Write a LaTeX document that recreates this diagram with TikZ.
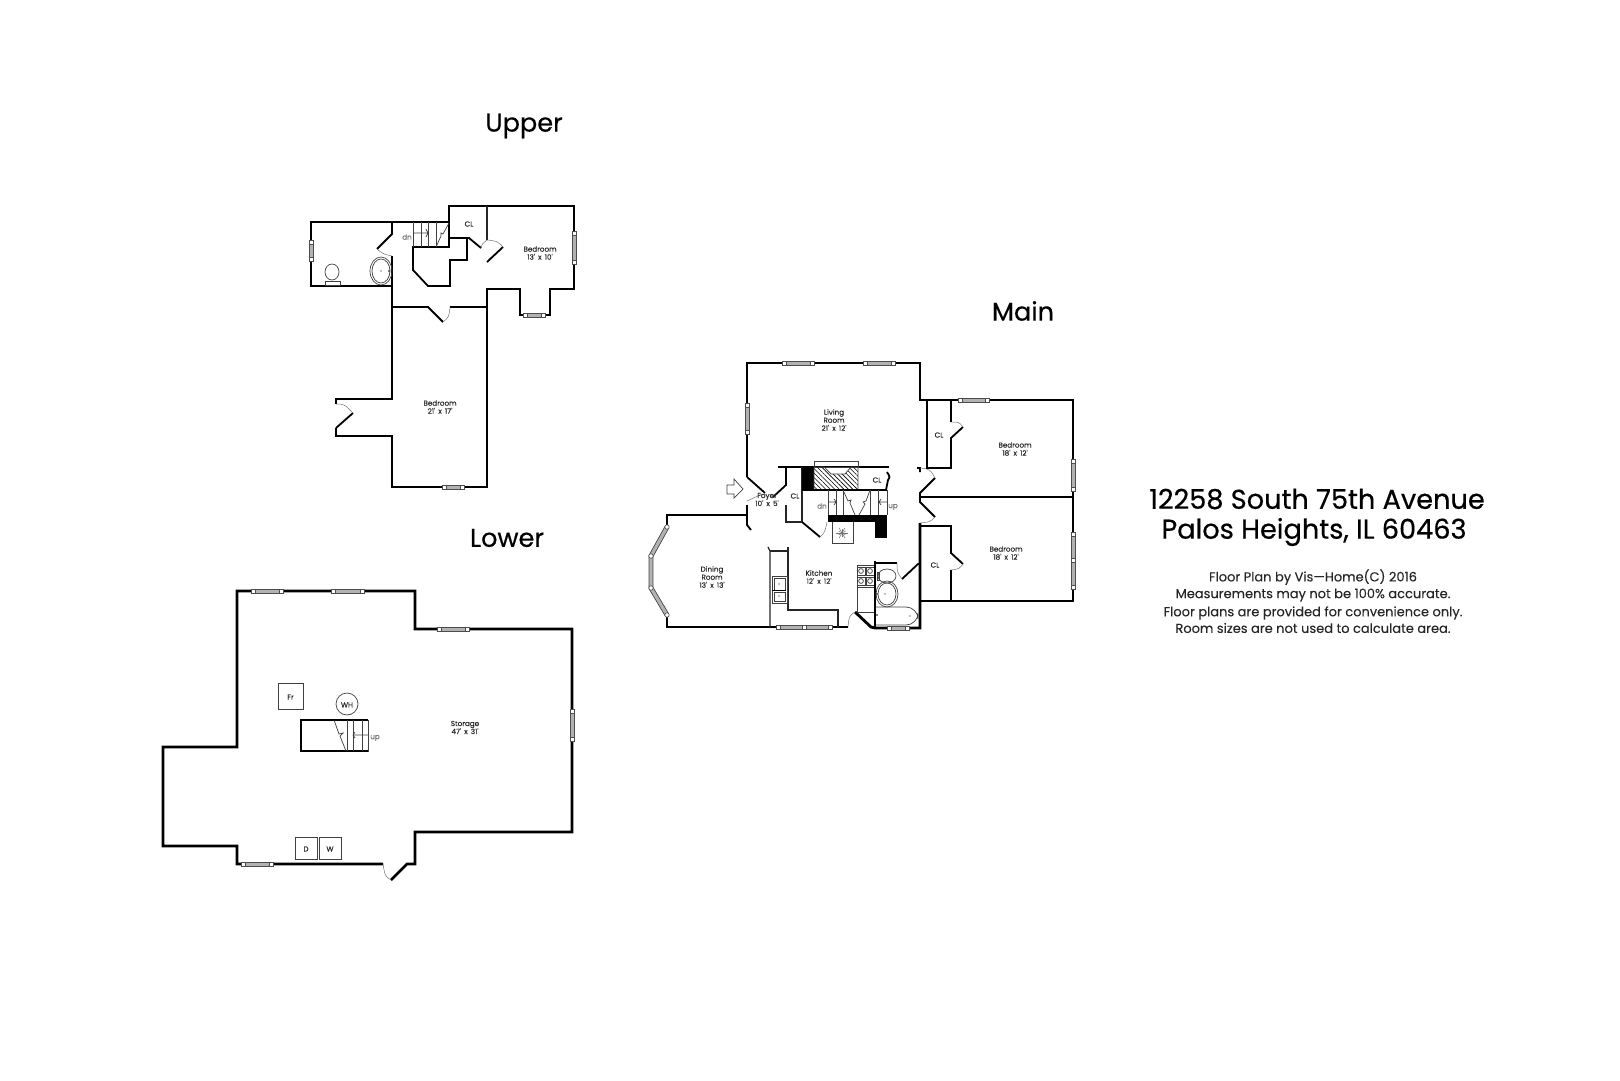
\documentclass[tikz,border=0pt]{standalone}
\usepackage{fontspec}
\setmainfont{Poppins}
\newfontfamily\headfont[FakeBold=0.5]{Poppins}
\newfontfamily\notefont[FakeBold=0.15]{Poppins}
\usetikzlibrary{patterns.meta}
\newcommand{\roomfont}{\fontsize{3.6}{4}\notefont}
\newcommand{\dims}[2]{#1'\, x \,#2'}
\tikzset{
  wall/.style={line width=1.4pt,line join=miter,black},
  midwall/.style={line width=.9pt,black},
  partition/.style={line width=.6pt,black!85},
  fixture/.style={line width=.35pt,black!75},
  swing/.style={line width=.25pt,black!55},
  winbar/.style={line width=.3pt,draw=black!70,fill=black!30},
  wincap/.style={line width=.3pt,draw=black!70,fill=white},
  room/.style={font=\roomfont,align=center,inner sep=0pt,text=black!85,yshift=.5pt},
  stairnote/.style={font=\roomfont,inner sep=0pt,text=black!55},
  planname/.style={font=\fontsize{12.8}{13}\headfont,inner sep=0pt,yshift=.5pt},
  address/.style={font=\fontsize{13.6}{15}\headfont,inner sep=0pt},
  smallnote/.style={font=\fontsize{6.5}{7}\notefont,inner sep=0pt,text=black!85,yshift=.5pt}
}
\newcommand{\hwin}[3]{% x from, x to, y
  \filldraw[winbar] (#1,#3-2) rectangle (#2,#3+2);
  \filldraw[wincap] (#1-2,#3-2) rectangle (#1+2,#3+2);
  \filldraw[wincap] (#2-2,#3-2) rectangle (#2+2,#3+2);
}
\newcommand{\vwin}[3]{% x, y from, y to
  \filldraw[winbar] (#1-2,#2) rectangle (#1+2,#3);
  \filldraw[wincap] (#1-2,#2-2) rectangle (#1+2,#2+2);
  \filldraw[wincap] (#1-2,#3-2) rectangle (#1+2,#3+2);
}
\begin{document}
\begin{tikzpicture}[x=0.5pt,y=-0.5pt]
\useasboundingbox (0,0) rectangle (1620,1080);
% titles
\node[planname] (upperName) at (524,127) {Upper};
\node[planname] (mainName) at (1023,312) {Main};
\node[planname] (lowerName) at (507,539) {Lower};
\node[address] (addrA) at (1317,499) {12258 South 75th Avenue};
\node[address] (addrB) at (1314,532) {Palos Heights, IL 60463};
\node[smallnote] (noteA) at (1313,578) {Floor Plan by Vis—Home(C) 2016};
\node[smallnote] (noteB) at (1313,596) {Measurements may not be 100\% accurate.};
\node[smallnote] (noteC) at (1313,614) {Floor plans are provided for convenience only.};
\node[smallnote] (noteD) at (1313,629) {Room sizes are not used to calculate area.};

% upper floor
\draw[wall] (392,222) -- (311,222) -- (311,286) -- (392,286) -- (392,399) -- (336,399) -- (336,404);
\draw[wall] (336,428) -- (336,436) -- (392,436) -- (392,487) -- (487,487) -- (487,289)
  -- (520,289) -- (520,315) -- (550,315) -- (550,289) -- (574,289) -- (574,206) -- (449,206) -- (449,238);
\draw[wall] (392,222) -- (449,222);
\draw[midwall] (353,413) -- (336,428);
\draw[midwall] (449,222) -- (449,247) -- (413,247) -- (413,270) -- (428,286) -- (450,286) -- (450,260) -- (467,260) -- (467,238) -- (449,238);
\draw[midwall] (392,222) -- (392,234) -- (377,249);
\draw[midwall] (392,256) -- (392,286);
\draw[partition] (487,206) -- (487,240);
\draw[midwall] (467,238) -- (469,238) -- (481,248);
\draw[midwall] (487,262) -- (503,247);
\draw[midwall] (392,307) -- (428,307) -- (443,322);
\draw[midwall] (450,307) -- (487,307);
\draw[swing] (377,249) .. controls (383,254) .. (392,256);
\draw[swing] (487,240) .. controls (497,241) .. (503,247);
\draw[swing] (481,248) .. controls (482,244) .. (487,240);
\draw[swing] (443,322) .. controls (449,317) .. (450,307);
\draw[swing] (336,404) .. controls (344,404) .. (353,413);
% upper stairs
\draw[fixture] (413,222) -- (413,247) (421,222) -- (421,247) (428,222) -- (428,247) (436,222) -- (436,247);
\draw[fixture] (413,233) -- (428,233) (426,229) -- (428,233) -- (426,237);
\draw[fixture] (449,223) -- (443,234) -- (441,233) -- (441,236) -- (436,247);
% upper bath
\draw[fixture] (332,272) ellipse[x radius=7,y radius=8];
\draw[fixture] (325,281) rectangle (340,285);
\draw[fixture] (381,271) ellipse[x radius=11,y radius=14];
\draw[fixture] (381,271) ellipse[x radius=9,y radius=12];
\fill (381,271) circle[radius=.6];
\fill (389,271) circle[radius=.9];
\hwin{444}{462}{487}
\hwin{525}{543}{315}
\vwin{311}{242}{259}
\vwin{574}{233}{262}
\node[room] (bedroomUp) at (540,254) {Bedroom\\\dims{13}{10}};
\node[room] (bedroomBig) at (440,408) {Bedroom\\\dims{21}{17}};
\node[room] (closetUp) at (469,225) {CL};
\node[stairnote] (dnUp) at (407,237) {dn};

% main floor
\draw[wall] (747,477) -- (747,363) -- (920,363) -- (920,400) -- (1073,400) -- (1073,601) -- (920,601);
\draw[wall] (920,523) -- (920,628) -- (875,628) -- (871,627) -- (855,612);
\draw[wall] (848,627) -- (667,627) -- (667,615) (667,527) -- (667,515) -- (747,515);
\draw[midwall] (747,477) -- (765,493);
\draw[midwall] (747,505) -- (747,525) -- (751,530);
\draw[midwall] (778,467) -- (889,467);
\draw[midwall] (786,467) -- (786,485) -- (773,497);
\draw[partition] (786,505) -- (786,522) -- (802,522) -- (802,467);
\draw[midwall] (802,522) -- (820,537);
\draw[swing] (747,501) .. controls (755,497) .. (762,494);
\draw[swing] (820,537) .. controls (825,532) .. (827,522);
% fireplace and chimney
\fill[black] (802,467) rectangle (814,490);
\draw[fixture] (814,461) rectangle (858,467);
\draw[fixture,pattern={Lines[angle=-45,distance=1.6pt,line width=.3pt]}] (814,467) -- (824,467) -- (831,474) -- (845,474)
  -- (851,467) -- (858,467) -- (858,490) -- (814,490) -- cycle;
\draw[midwall] (802,490) -- (887,490);
\draw[midwall] (887,472) .. controls (890,477) .. (888,480) -- (886,490);
% main stairs
\fill[black] (828,515) rectangle (887,522);
\fill[black] (875,522) rectangle (887,538);
\draw[fixture] (887,490) -- (887,515) (828,490) -- (828,515) (836,490) -- (836,515) (843,490) -- (843,515)
  (870,490) -- (870,515) (878,490) -- (878,515);
\draw[fixture] (843,490) -- (848,501) -- (851,500) -- (850,503) -- (855,515);
\draw[fixture] (870,490) -- (866,501) -- (863,502) -- (865,504) -- (859,515);
\draw[fixture] (828,502) -- (836,502) (834,499) -- (836,502) -- (834,505);
\draw[fixture] (887,502) -- (879,502) (881,499) -- (879,502) -- (881,505);
% snowflake box
\draw[fixture] (832,522) -- (832,543) -- (853,543) -- (853,522);
\foreach \a in {0,60,...,300} {
  \draw[swing] (842,533) -- ++(\a:6);
}
\foreach \a in {30,90,...,330} {
  \draw[swing] (842,533) -- ++(\a:4);
}
% right side doors and closets
\draw[midwall] (917,468) -- (920,468) -- (920,472) (935,478) -- (920,493) -- (920,502) -- (935,517);
\draw[swing] (920,468) .. controls (930,469) .. (935,478);
\draw[swing] (935,517) .. controls (930,522) .. (920,523);
\draw[midwall] (927,400) -- (927,468) -- (951,468) -- (951,438) -- (963,427);
\draw[midwall] (951,400) -- (951,422);
\draw[swing] (951,422) .. controls (959,422) .. (963,427);
\draw[midwall] (920,497) -- (1073,497);
\draw[midwall] (920,526) -- (951,526) -- (951,553) -- (963,564);
\draw[midwall] (951,570) -- (951,601);
\draw[swing] (963,564) .. controls (959,569) .. (951,570);
% kitchen
\draw[partition] (768,547) -- (770,551) -- (770,627);
\draw[partition] (770,551) -- (788,551) -- (788,547);
\draw[partition] (788,551) -- (788,610) -- (838,610) -- (838,627);
\draw[fixture] (772,576) rectangle (787,603);
\draw[fixture] (774,578) rectangle (785,590);
\draw[fixture] (774,592) rectangle (785,601);
\draw[line width=.8pt] (772,590.5) -- (786,590.5);
\fill (779,584) circle[radius=.6] (779,596) circle[radius=.6];
\draw[fixture] (857,565) rectangle (875,587);
\foreach \xx in {861,870} {
  \foreach \yy in {571,581} {
    \draw[fixture] (\xx-4,\yy-4) rectangle (\xx+4,\yy+4);
    \draw[fixture] (\xx,\yy) circle[radius=2.4];
  }
}
\draw[fixture] (857,587) -- (857,612) -- (875,612);
\draw[swing] (855,612) .. controls (849,616) .. (848,627);
% main bath
\draw[midwall] (875,561) -- (875,628);
\draw[midwall] (875,563) -- (897,563);
\draw[midwall] (920,564) -- (918,564) -- (902,579);
\draw[swing] (897,563) .. controls (897,572) .. (902,579);
\draw[fixture] (887,576) ellipse[x radius=9,y radius=7];
\draw[fixture] (877,572) rectangle (879,580);
\draw[fixture] (887,594) ellipse[x radius=11,y radius=13];
\draw[fixture] (887,594) ellipse[x radius=9,y radius=11];
\fill (885,594) circle[radius=.6];
\fill (877,594) circle[radius=.9];
\draw[fixture,rounded corners=6pt] (876,607) -- (918,607) -- (918,625) -- (876,625);
\fill (877,615) circle[radius=.9];
\fill (910,616) circle[radius=.6];
% main windows
\hwin{784}{812}{363}
\hwin{865}{893}{363}
\hwin{960}{987}{400}
\hwin{778}{804}{627}
\hwin{804}{830}{627}
\hwin{889}{907}{628}
\vwin{747}{405}{432}
\vwin{1073}{461}{489}
\vwin{1073}{534}{560}
\vwin{1073}{560}{587}
\draw[line width=2.4pt,black!75] (667,527) -- (651,556) -- (651,588) -- (667,615);
\draw[line width=1.6pt,black!30] (667,527) -- (651,556) -- (651,588) -- (667,615);
\foreach \xx/\yy in {667/527,651/556,651/588,667/615} {
  \filldraw[wincap] (\xx,\yy) circle[radius=2.2];
}
% entry arrow
\draw[fixture] (727,485) -- (734,485) -- (734,479) -- (743,489) -- (734,498) -- (734,494) -- (727,494) -- cycle;
\node[room] (livingRoom) at (834,421) {Living\\Room\\\dims{21}{12}};
\node[room] (foyer) at (767,500.5) {Foyer\\\dims{10}{5}};
\node[room] (closetFoyer) at (795,497) {CL};
\node[room] (closetHall) at (877,481) {CL};
\node[room] (closetBedA) at (939,436) {CL};
\node[room] (closetBedB) at (935,566) {CL};
\node[room] (bedroomA) at (1015,450) {Bedroom\\\dims{18}{12}};
\node[room] (bedroomB) at (1006,554) {Bedroom\\\dims{18}{12}};
\node[room] (diningRoom) at (712,578) {Dining\\Room\\\dims{13}{13}};
\node[room] (kitchen) at (819,578) {Kitchen\\\dims{12}{12}};
\node[stairnote] (dnMain) at (822,506) {dn};
\node[stairnote] (upMain) at (893,507) {up};

% lower floor
\draw[wall] (383,864) -- (237,864) -- (237,846) -- (163,846) -- (163,747) -- (237,747) -- (237,591) -- (415,591) -- (415,629)
  -- (572,629) -- (572,832) -- (415,832) -- (415,864) -- (407,864) -- (391,880);
\draw[swing] (391,880) .. controls (385,876) .. (383,864);
\hwin{253}{281}{591}
\hwin{333}{362}{591}
\hwin{439}{467}{629}
\hwin{243}{271}{864}
\vwin{572}{711}{739}
\draw[fixture] (278,683) rectangle (303,709);
\node[room] (freezer) at (290.5,698) {Fr};
\draw[fixture] (347,704) circle[radius=11];
\node[room] (heater) at (347,706) {WH};
\draw[line width=.8pt] (368,720) -- (301,720) -- (301,751) -- (368,751);
\draw[fixture] (347,720) -- (347,751) (353,720) -- (353,751) (362,720) -- (362,751) (368,720) -- (368,752);
\draw[fixture] (334,720) -- (339,734) -- (343,733) -- (340,736) -- (346,751);
\draw[fixture] (368,735) -- (353,735) (355,732) -- (353,735) -- (355,738);
\node[stairnote] (upLower) at (375,738) {up};
\draw[fixture] (295,837) rectangle (317,859);
\draw[fixture] (319,837) rectangle (341,859);
\node[room] (dryer) at (306,850) {D};
\node[room] (washer) at (330,850) {W};
\node[room] (storage) at (465,728.5) {Storage\\\dims{47}{31}};
\end{tikzpicture}
\end{document}
